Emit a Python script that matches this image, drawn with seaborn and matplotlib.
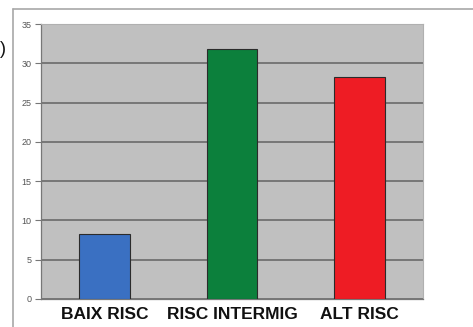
import matplotlib
matplotlib.use("Agg")
import matplotlib.pyplot as plt
import seaborn as sns
import pandas as pd
from matplotlib.lines import Line2D

categories = ["BAIX RISC", "RISC INTERMIG", "ALT RISC"]
values = [8.3, 31.8, 28.3]
bar_colors = ["#3a70c2", "#0c803c", "#ee1c24"]
y_ticks = [0, 5, 10, 15, 20, 25, 30, 35]

df = pd.DataFrame({"grup": categories, "valor": values})

sns.set_theme(style="white")
plt.rcParams["font.family"] = ["Liberation Sans", "DejaVu Sans"]

W, H = 473, 327
fig = plt.figure(figsize=(W / 100, H / 100), dpi=100)
fig.patch.set_facecolor("white")

# plot area in pixel coordinates
left, right, top, bottom = 41, 423, 24, 299
ax = fig.add_axes([left / W, 1 - bottom / H, (right - left) / W, (bottom - top) / H])
ax.set_facecolor("#c0c0c0")

sns.barplot(data=df, x="grup", y="valor", hue="grup", palette=bar_colors,
            saturation=1, width=0.4, edgecolor="#2b2b2b", linewidth=0.8,
            legend=False, ax=ax, zorder=3)

ax.set_ylim(0, 35)
ax.set_xlim(-0.5, 2.5)
ax.set_yticks(y_ticks)
ax.set_yticklabels([str(t) for t in y_ticks], fontsize=6.5, color="#555555")
ax.yaxis.grid(True, color="#777777", linewidth=1.4, zorder=1)
ax.set_axisbelow(True)
ax.set_xlabel("")
ax.set_ylabel("")

# category labels, ticks at category boundaries
ax.set_xticks([0, 1, 2])
ax.set_xticklabels(categories, fontsize=12.5, fontweight="bold", color="#111111")
ax.tick_params(axis="x", length=0, pad=6)
ax.set_xticks([-0.5, 0.5, 1.5, 2.5], minor=True)
ax.tick_params(axis="x", which="minor", length=4, color="#777777", width=0.8, direction="out")
ax.tick_params(axis="y", length=4, color="#777777", width=0.8, direction="out", pad=3, left=True)

for side in ["left", "bottom"]:
    ax.spines[side].set_color("#777777")
    ax.spines[side].set_linewidth(0.9)
for side in ["top", "right"]:
    ax.spines[side].set_color("#b0b0b0")
    ax.spines[side].set_linewidth(0.8)

# outer chart frame
frame_x, frame_y = 13, 9
fig.add_artist(Line2D([frame_x / W, frame_x / W], [0, 1 - frame_y / H],
                      transform=fig.transFigure, color="#a8a8a8", linewidth=1.2))
fig.add_artist(Line2D([frame_x / W, 1], [1 - frame_y / H, 1 - frame_y / H],
                      transform=fig.transFigure, color="#a8a8a8", linewidth=1.2))

# panel label at the left edge
fig.text(0 / W, 1 - 50 / H, ")", fontsize=13, color="#111111", va="center", ha="left")

fig.savefig("out.png", dpi=100, facecolor="white")
